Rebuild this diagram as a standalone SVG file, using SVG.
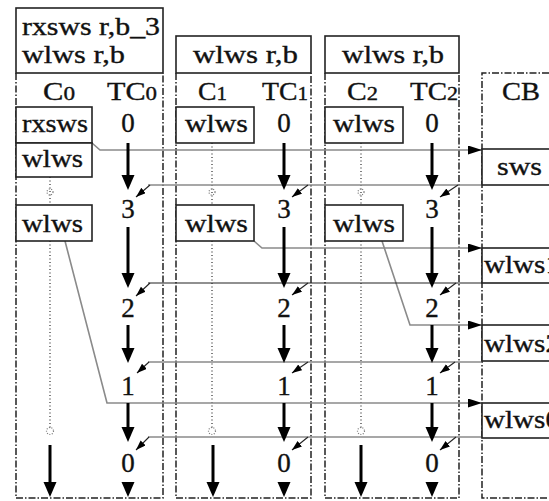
<svg xmlns="http://www.w3.org/2000/svg" width="549" height="501" viewBox="0 0 549 501">
<defs>
<marker id="big" markerUnits="userSpaceOnUse" markerWidth="16" markerHeight="14" refX="5" refY="6.5" orient="auto"><path d="M0,0 L15,6.5 L0,13 z" fill="#000"/></marker>
<marker id="mid" markerUnits="userSpaceOnUse" markerWidth="15" markerHeight="10" refX="14" refY="4.5" orient="auto"><path d="M0,0 L14,4.5 L0,9 z" fill="#000"/></marker>
<marker id="sm" markerUnits="userSpaceOnUse" markerWidth="11" markerHeight="8" refX="10" refY="3.5" orient="auto"><path d="M0,0 L10,3.5 L0,7 z" fill="#000"/></marker>
</defs>
<style>
text{font-family:"Liberation Serif","Times New Roman",serif;fill:#111;stroke:#111;stroke-width:0.35;}
.lbl{font-size:25px;}
.num{font-size:27px;text-anchor:middle;}
.box{fill:#fff;stroke:#222;stroke-width:1.6;}
.dd{fill:none;stroke:#222;stroke-width:1.5;stroke-dasharray:7 2 1.5 2;}
.dot{fill:none;stroke:#555;stroke-width:1.5;stroke-dasharray:1 2.5;}
.blob{fill:none;stroke:#777;stroke-width:1.2;stroke-dasharray:1 1.5;}
.thick{stroke:#000;stroke-width:3;fill:none;marker-end:url(#big);}
.gl{fill:none;stroke:#8a8a8a;stroke-width:1.6;}
.bl{fill:none;stroke:#222;stroke-width:1.2;}
.diag{fill:none;stroke:#222;stroke-width:1.1;marker-end:url(#sm);}
.toCB{marker-end:url(#mid);}
</style>

<!-- column frames -->
<g id="col0">
<path class="dd" d="M16,73 V498 H163 V73"/>
<rect class="box" x="16" y="8" width="147" height="65"/>
<text class="lbl" x="22" y="35" textLength="138" lengthAdjust="spacingAndGlyphs">rxsws r,b_3</text>
<text class="lbl" x="22" y="63" textLength="103" lengthAdjust="spacingAndGlyphs">wlws r,b</text>
<text class="lbl" x="43" y="100" textLength="32" lengthAdjust="spacingAndGlyphs">C<tspan font-size="19">0</tspan></text>
<text class="lbl" x="107" y="100" textLength="50" lengthAdjust="spacingAndGlyphs">TC<tspan font-size="19">0</tspan></text>
</g>
<g id="col1">
<path class="dd" d="M176,73 V498 H311 V73"/>
<rect class="box" x="176" y="36" width="135" height="37"/>
<text class="lbl" x="193" y="63" textLength="105" lengthAdjust="spacingAndGlyphs">wlws r,b</text>
<text class="lbl" x="198" y="100" textLength="29" lengthAdjust="spacingAndGlyphs">C<tspan font-size="19">1</tspan></text>
<text class="lbl" x="262" y="100" textLength="46" lengthAdjust="spacingAndGlyphs">TC<tspan font-size="19">1</tspan></text>
</g>
<g id="col2">
<path class="dd" d="M325,73 V498 H459 V73"/>
<rect class="box" x="325" y="36" width="134" height="37"/>
<text class="lbl" x="342" y="63" textLength="102" lengthAdjust="spacingAndGlyphs">wlws r,b</text>
<text class="lbl" x="347" y="100" textLength="31" lengthAdjust="spacingAndGlyphs">C<tspan font-size="19">2</tspan></text>
<text class="lbl" x="410" y="100" textLength="48" lengthAdjust="spacingAndGlyphs">TC<tspan font-size="19">2</tspan></text>
</g>
<g id="colCB">
<path class="dd" d="M549,73 H482 V498 H549"/>
<text class="lbl" x="502" y="100" textLength="38" lengthAdjust="spacingAndGlyphs">CB</text>
</g>

<!-- dotted timelines and blobs -->
<g id="timelines">
<path class="dot" d="M50,177 V205 M50,241 V428"/>
<path class="dot" d="M212,143 V205 M212,241 V428"/>
<path class="dot" d="M361,143 V205 M361,241 V428"/>
<circle class="blob" cx="50" cy="192" r="3"/>
<circle class="blob" cx="212" cy="192" r="3"/>
<circle class="blob" cx="361" cy="192" r="3"/>
<circle class="blob" cx="50" cy="431" r="3.5"/>
<circle class="blob" cx="212" cy="431" r="3.5"/>
<circle class="blob" cx="361" cy="431" r="3.5"/>
<path class="thick" d="M50,445 V487"/>
<path class="thick" d="M213,445 V487"/>
<path class="thick" d="M361,445 V487"/>
</g>

<!-- connectors -->
<g id="connectors">
<path class="gl toCB" d="M92,143 L100,150 H482"/>
<path class="gl toCB" d="M254,241 L262,248 H482"/>
<path class="gl toCB" d="M382,241 L410,325 H482"/>
<path class="gl toCB" d="M65,241 L107,403 H482"/>
<path class="gl" d="M148,185 H482"/>
<path class="bl" d="M148,283 H482"/>
<path class="gl" d="M148,362 H482"/>
<path class="gl" d="M148,437 H482"/>
<path class="diag" d="M150,185 L136,197"/>
<path class="diag" d="M308,185 L292,197"/>
<path class="diag" d="M458,185 L440,197"/>
<path class="diag" d="M150,283 L136,296"/>
<path class="diag" d="M308,283 L292,295"/>
<path class="diag" d="M456,283 L440,295"/>
<path class="diag" d="M149,362 L137,373"/>
<path class="diag" d="M308,362 L292,373"/>
<path class="diag" d="M455,362 L440,373"/>
<path class="diag" d="M149,437 L136,450"/>
<path class="diag" d="M308,437 L292,450"/>
<path class="diag" d="M456,437 L440,450"/>
<!-- TC thick arrows -->
<path class="thick" d="M128,143 V180"/><path class="thick" d="M128,227 V278"/><path class="thick" d="M128,325 V353"/><path class="thick" d="M128,403 V432"/><path class="thick" d="M128,482 V487"/>
<path class="thick" d="M284,143 V180"/><path class="thick" d="M284,227 V278"/><path class="thick" d="M284,325 V353"/><path class="thick" d="M284,403 V432"/><path class="thick" d="M284,482 V487"/>
<path class="thick" d="M432,143 V180"/><path class="thick" d="M432,227 V278"/><path class="thick" d="M432,325 V353"/><path class="thick" d="M432,403 V432"/><path class="thick" d="M432,482 V487"/>
</g>

<!-- C0 nodes -->
<g id="c0-rxsws"><rect class="box" x="16" y="107" width="76" height="36"/><text class="lbl" x="22" y="132" textLength="66" lengthAdjust="spacingAndGlyphs">rxsws</text></g>
<g id="c0-wlws-a"><rect class="box" x="16" y="143" width="76" height="34"/><text class="lbl" x="22" y="167" textLength="61" lengthAdjust="spacingAndGlyphs">wlws</text></g>
<g id="c0-wlws-b"><rect class="box" x="16" y="205" width="76" height="36"/><text class="lbl" x="22" y="232" textLength="61" lengthAdjust="spacingAndGlyphs">wlws</text></g>
<!-- C1 nodes -->
<g id="c1-wlws-a"><rect class="box" x="176" y="107" width="78" height="36"/><text class="lbl" x="185" y="132" textLength="63" lengthAdjust="spacingAndGlyphs">wlws</text></g>
<g id="c1-wlws-b"><rect class="box" x="176" y="205" width="78" height="36"/><text class="lbl" x="185" y="232" textLength="63" lengthAdjust="spacingAndGlyphs">wlws</text></g>
<!-- C2 nodes -->
<g id="c2-wlws-a"><rect class="box" x="325" y="107" width="78" height="36"/><text class="lbl" x="333" y="132" textLength="62" lengthAdjust="spacingAndGlyphs">wlws</text></g>
<g id="c2-wlws-b"><rect class="box" x="325" y="205" width="78" height="36"/><text class="lbl" x="333" y="232" textLength="62" lengthAdjust="spacingAndGlyphs">wlws</text></g>
<!-- CB nodes -->
<g id="cb-sws"><rect class="box" x="482" y="149" width="80" height="36"/><text class="lbl" x="497" y="175" textLength="45" lengthAdjust="spacingAndGlyphs">sws</text></g>
<g id="cb-wlws1"><rect class="box" x="482" y="248" width="80" height="35"/><text class="lbl" x="484" y="273" textLength="76" lengthAdjust="spacingAndGlyphs">wlws1</text></g>
<g id="cb-wlws2"><rect class="box" x="482" y="325" width="80" height="36"/><text class="lbl" x="484" y="352" textLength="76" lengthAdjust="spacingAndGlyphs">wlws2</text></g>
<g id="cb-wlws0"><rect class="box" x="482" y="403" width="80" height="35"/><text class="lbl" x="484" y="428" textLength="76" lengthAdjust="spacingAndGlyphs">wlws0</text></g>

<!-- TC counters -->
<g id="tc0">
<text class="num" x="128" y="132">0</text><text class="num" x="128" y="218">3</text><text class="num" x="128" y="317">2</text><text class="num" x="128" y="395">1</text><text class="num" x="128" y="472">0</text>
</g>
<g id="tc1">
<text class="num" x="284" y="132">0</text><text class="num" x="284" y="218">3</text><text class="num" x="284" y="317">2</text><text class="num" x="284" y="395">1</text><text class="num" x="284" y="472">0</text>
</g>
<g id="tc2">
<text class="num" x="432" y="132">0</text><text class="num" x="432" y="218">3</text><text class="num" x="432" y="317">2</text><text class="num" x="432" y="395">1</text><text class="num" x="432" y="472">0</text>
</g>
</svg>
